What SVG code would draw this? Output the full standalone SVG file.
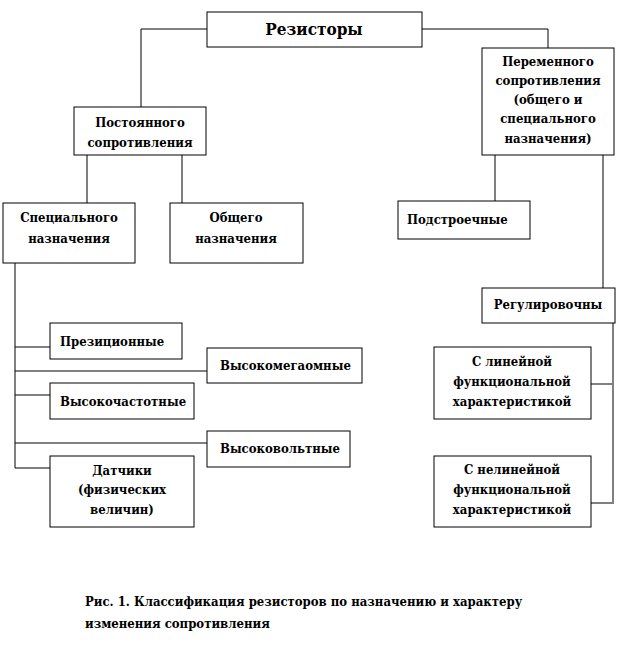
<svg xmlns="http://www.w3.org/2000/svg" width="618" height="651" viewBox="0 0 618 651">
<style>
.b{fill:#fff;stroke:#000;stroke-width:1}
text{font-family:'DejaVu Serif Condensed','DejaVu Serif',serif;font-stretch:condensed;font-weight:bold;font-size:13px;fill:#000;text-anchor:middle}
.l{text-anchor:start}
.big{font-size:17px}
.c{stroke:#000;stroke-width:1;fill:none}
.g{stroke:#808080;stroke-width:2;fill:none}
</style>
<rect width="618" height="651" fill="#fff"/>
<g id="connectors">
<polyline class="c" points="207,29 141,29 141,107"/>
<polyline class="c" points="422,29 548,29 548,48"/>
<line class="c" x1="87" y1="155" x2="87" y2="203"/>
<line class="c" x1="182" y1="155" x2="182" y2="203"/>
<line class="g" x1="495" y1="155" x2="495" y2="201"/>
<line class="g" x1="603" y1="155" x2="603" y2="288"/>
<line class="g" x1="15" y1="263" x2="15" y2="468"/>
<line class="c" x1="15" y1="347" x2="50" y2="347"/>
<line class="c" x1="15" y1="371" x2="207" y2="371"/>
<line class="c" x1="15" y1="395" x2="50" y2="395"/>
<line class="c" x1="15" y1="443" x2="207" y2="443"/>
<line class="c" x1="15" y1="468" x2="50" y2="468"/>
<polyline class="g" points="613,323 613,503 591,503"/>
<line class="g" x1="591" y1="384" x2="613" y2="384"/>
</g>
<g id="n-rezistory"><rect class="b" x="207" y="12" width="215" height="35"/><text class="big" x="314" y="35">Резисторы</text></g>
<g id="n-postoyannogo"><rect class="b" x="74" y="107" width="132" height="48"/><text x="140" y="127">Постоянного</text><text x="140" y="147">сопротивления</text></g>
<g id="n-peremennogo"><rect class="b" x="482" y="48" width="132" height="107"/><text x="548" y="66">Переменного</text><text x="548" y="85">сопротивления</text><text x="548" y="104">(общего и</text><text x="548" y="123">специального</text><text x="548" y="143">назначения)</text></g>
<g id="n-spec"><rect class="b" x="3" y="203" width="132" height="60"/><text x="69" y="222">Специального</text><text x="69" y="243">назначения</text></g>
<g id="n-obsh"><rect class="b" x="170" y="203" width="133" height="60"/><text x="236" y="222">Общего</text><text x="236" y="243">назначения</text></g>
<g id="n-podstr"><rect class="b" x="398" y="201" width="132" height="38"/><text class="l" x="407" y="224">Подстроечные</text></g>
<g id="n-regul"><rect class="b" x="482" y="288" width="133" height="35"/><text x="548" y="309">Регулировочны</text></g>
<g id="n-lin"><rect class="b" x="434" y="347" width="157" height="72"/><text x="512" y="366">С линейной</text><text x="512" y="386">функциональной</text><text x="512" y="406">характеристикой</text></g>
<g id="n-nelin"><rect class="b" x="434" y="456" width="157" height="71"/><text x="512" y="474">С нелинейной</text><text x="512" y="494">функциональной</text><text x="512" y="514">характеристикой</text></g>
<g id="n-prez"><rect class="b" x="50" y="323" width="132" height="36"/><text class="l" x="60" y="346">Презиционные</text></g>
<g id="n-vmeg"><rect class="b" x="207" y="348" width="155" height="35"/><text class="l" x="220" y="370">Высокомегаомные</text></g>
<g id="n-vchast"><rect class="b" x="50" y="383" width="144" height="36"/><text class="l" x="60" y="406">Высокочастотные</text></g>
<g id="n-vvolt"><rect class="b" x="207" y="431" width="143" height="36"/><text class="l" x="220" y="453">Высоковольтные</text></g>
<g id="n-dat"><rect class="b" x="50" y="456" width="144" height="71"/><text x="122" y="475">Датчики</text><text x="122" y="494">(физических</text><text x="122" y="514">величин)</text></g>
<text class="l" x="85" y="606">Рис. 1. Классификация резисторов по назначению и характеру</text>
<text class="l" x="85" y="628">изменения сопротивления</text>
</svg>
